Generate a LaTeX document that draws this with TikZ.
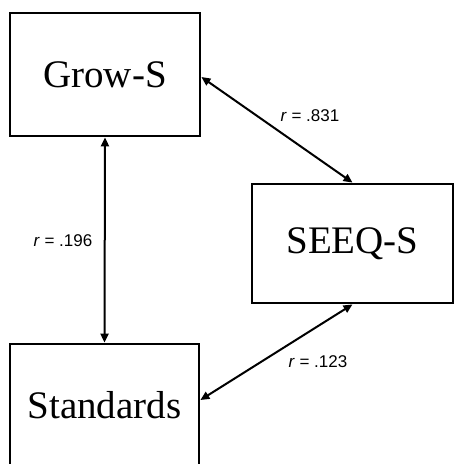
\documentclass[tikz,border=0pt]{standalone}
\usepackage{fontspec}
\setmainfont{Liberation Serif}
\newfontfamily\labelfont{Liberation Sans}
\usetikzlibrary{arrows.meta}
\begin{document}
\begin{tikzpicture}[x=1pt,y=-1pt,
  varbox/.style={draw=black,line width=2.8pt,rectangle,inner sep=0pt,
    font=\fontsize{39}{39}\selectfont},
  corr/.style={line width=2pt,{Triangle[length=9pt,width=8pt]}-{Triangle[length=9pt,width=8pt]}},
  rlabel/.style={font=\labelfont\fontsize{17}{17}\selectfont,inner sep=0pt}]
  \useasboundingbox (0,0) rectangle (454,464);
  \clip (0,0) rectangle (454,464);
  % the three measures
  \node[varbox,minimum width=190pt,minimum height=123pt] (grow) at (105,74.5) {Grow-S};
  \node[varbox,minimum width=201pt,minimum height=119pt] (seeq) at (352.5,243.5) {SEEQ-S};
  \node[varbox,minimum width=189pt,minimum height=123pt] (std) at (104.5,405.5) {Standards};
  % correlations
  \draw[corr] ([yshift=-2.5pt]grow.east) -- (seeq.north);
  \draw[corr] (grow.south) -- (std.north);
  \draw[corr] (seeq.south) -- ([yshift=5.5pt]std.east);
  \node[rlabel] (r1) at (310,116) {\textit{r} = .831};
  \node[rlabel] (r2) at (63,241) {\textit{r} = .196};
  \node[rlabel] (r3) at (318,362) {\textit{r} = .123};
\end{tikzpicture}
\end{document}
